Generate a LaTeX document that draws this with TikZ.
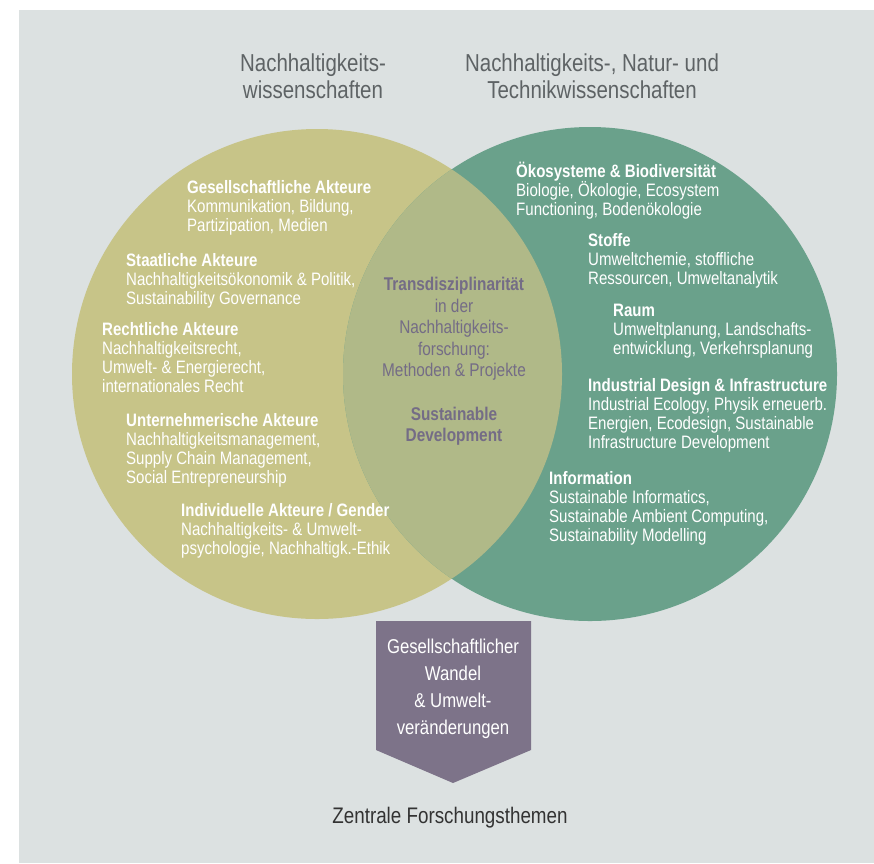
\documentclass[tikz,border=0pt]{standalone}
\usepackage{fontspec}
\setmainfont{Liberation Sans}[FakeStretch=0.836]
\definecolor{venngrey}{HTML}{DCE1E1}
\definecolor{vennolive}{HTML}{C7C488}
\definecolor{venngreen}{HTML}{6AA18B}
\definecolor{vennmix}{HTML}{B0B988}
\definecolor{vennpurple}{HTML}{746C86}
\definecolor{arrowpurple}{HTML}{7D7389}
\definecolor{titlegrey}{HTML}{5E6365}
\tikzset{
  topic/.style={anchor=north west, inner sep=0pt, align=left, text=white,
    font=\fontsize{18}{19}\selectfont},
  head/.style={anchor=north, inner sep=0pt, align=center, text=titlegrey,
    font=\fontsize{24.5}{27}\selectfont},
}
\begin{document}
\begin{tikzpicture}[x=1pt,y=-1pt]
  \useasboundingbox (0,0) rectangle (874,863);
  \fill[white] (0,0) rectangle (874,863);
  \fill[venngrey] (19,10) rectangle (874,863);
  \fill[vennolive] (317,374) circle[radius=245pt];
  \fill[venngreen] (590,374) circle[radius=247pt];
  \begin{scope}
    \clip (317,374) circle[radius=245pt];
    \fill[vennmix] (590,374) circle[radius=247pt];
  \end{scope}
  \fill[arrowpurple] (376,621) -- (531,621) -- (531,750) -- (453,783) -- (376,750) -- cycle;
  \node[head] (leftTitle) at (313,54) {Nachhaltigkeits-\\wissenschaften};
  \node[head] (rightTitle) at (592,54) {Nachhaltigkeits-, Natur- und\\Technikwissenschaften};
  % left circle
  \node[topic] (gesell) at (187,180) {\textbf{Gesellschaftliche Akteure}\\Kommunikation, Bildung,\\Partizipation, Medien};
  \node[topic] (staat) at (126,253) {\textbf{Staatliche Akteure}\\Nachhaltigkeitsökonomik \& Politik,\\Sustainability Governance};
  \node[topic] (recht) at (102,322) {\textbf{Rechtliche Akteure}\\Nachhaltigkeitsrecht,\\Umwelt- \& Energierecht,\\internationales Recht};
  \node[topic] (unter) at (126,413) {\textbf{Unternehmerische Akteure}\\Nachhaltigkeitsmanagement,\\Supply Chain Management,\\Social Entrepreneurship};
  \node[topic] (indiv) at (181,503) {\textbf{Individuelle Akteure / Gender}\\Nachhaltigkeits- \& Umwelt-\\psychologie, Nachhaltigk.-Ethik};
  % right circle
  \node[topic] (oeko) at (516,162) {\textbf{Ökosysteme \& Biodiversität}\\Biologie, Ökologie, Ecosystem\\Functioning, Bodenökologie};
  \node[topic] (stoffe) at (588,233) {\textbf{Stoffe}\\Umweltchemie, stoffliche\\Ressourcen, Umweltanalytik};
  \node[topic] (raum) at (613,304) {\textbf{Raum}\\Umweltplanung, Landschafts-\\entwicklung, Verkehrsplanung};
  \node[topic] (design) at (588,378) {\textbf{Industrial Design \& Infrastructure}\\Industrial Ecology, Physik erneuerb.\\Energien, Ecodesign, Sustainable\\Infrastructure Development};
  \node[topic] (info) at (549,471) {\textbf{Information}\\Sustainable Informatics,\\Sustainable Ambient Computing,\\Sustainability Modelling};
  % overlap
  \node[anchor=north, inner sep=0pt, align=center, text=vennpurple, font=\fontsize{18.4}{21.5}\selectfont] (trans) at (454,277)
    {\textbf{Transdisziplinarität}\\in der\\Nachhaltigkeits-\\forschung:\\Methoden \& Projekte\\[22pt]
     \textbf{Sustainable}\\\textbf{Development}};
  \node[anchor=north, inner sep=0pt, align=center, text=white, font=\fontsize{20}{27}\selectfont] (wandel) at (453,639)
    {Gesellschaftlicher\\Wandel\\\& Umwelt-\\veränderungen};
  \node[anchor=center, inner sep=0pt, text=black!80, font=\fontsize{22.5}{24}\selectfont] (zentral) at (450,818) {Zentrale Forschungsthemen};
\end{tikzpicture}
\end{document}
